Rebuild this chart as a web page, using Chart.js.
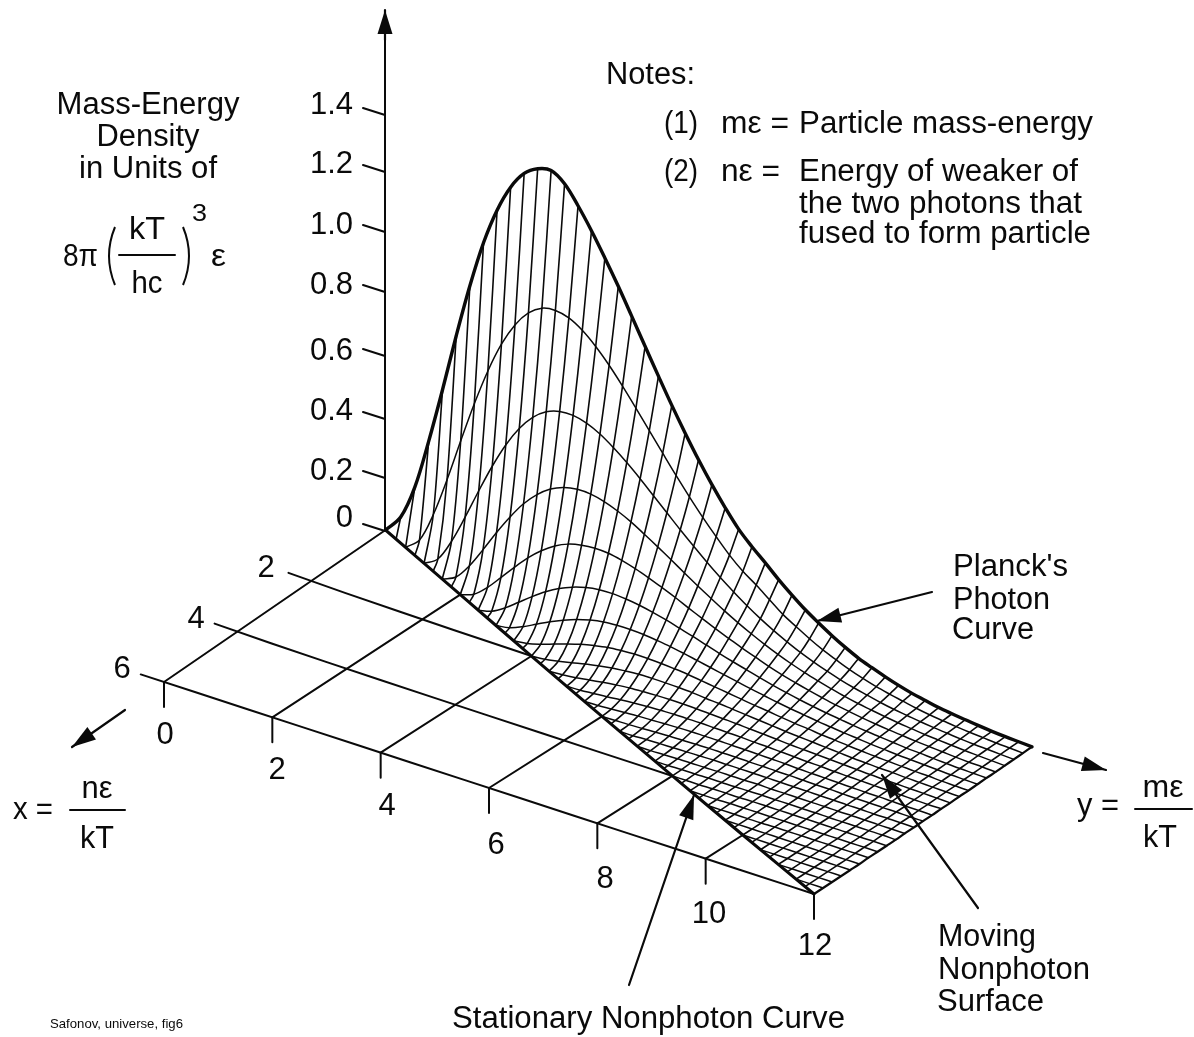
<!DOCTYPE html>
<html>
<head>
<meta charset="utf-8">
<title>Mass-energy density surface</title>
<script src="https://cdn.jsdelivr.net/npm/chart.js@4"></script>
<style>
  html, body { margin: 0; padding: 0; background: #fff; }
  canvas { display: block; }
</style>
</head>
<body>
<canvas id="surfaceChart" width="1194" height="1037"></canvas>
<script>
// axis ticks
const xTicks = [2, 4, 6];
const yTicks = [0, 2, 4, 6, 8, 10, 12];
const zTickLabels = ['0', '0.2', '0.4', '0.6', '0.8', '1.0', '1.2', '1.4'];

// grid steps of the wire mesh
const xStep = 0.25;
const yStep = 0.25;

// surface height, one row per y line (y = 0, 0.25 ... 12),
// each row runs from x = 0 towards the stationary curve in steps of 0.25
const surfaceRows = [
  [0],
  [.065],
  [.185, 0],
  [.360, .042],
  [.553, .146, 0],
  [.755, .282, .031],
  [.943, .431, .108, 0],
  [1.107, .575, .207, .023],
  [1.235, .704, .313, .078, 0],
  [1.330, .812, .414, .149, .017],
  [1.393, .894, .503, .224, .056, 0],
  [1.425, .951, .575, .293, .106, .012],
  [1.435, .983, .629, .354, .157, .039, 0],
  [1.405, .991, .664, .401, .205, .074, .008],
  [1.345, .981, .681, .436, .245, .109, .027, 0],
  [1.275, .954, .683, .457, .277, .141, .051, .006],
  [1.197, .914, .672, .466, .299, .168, .075, .019, 0],
  [1.115, .865, .650, .465, .311, .188, .096, .035, .004],
  [1.028, .809, .619, .455, .316, .202, .114, .051, .013, 0],
  [.940, .749, .583, .438, .314, .210, .127, .065, .023, .003],
  [.853, .687, .543, .416, .305, .212, .136, .076, .034, .008, 0],
  [.768, .625, .500, .389, .292, .209, .140, .085, .043, .016, .002],
  [.688, .564, .457, .361, .276, .203, .141, .090, .051, .023, .006, 0],
  [.612, .506, .414, .332, .258, .194, .139, .093, .056, .029, .010, .001],
  [.542, .451, .373, .302, .239, .183, .134, .093, .060, .034, .015, .004, 0],
  [.478, .400, .333, .273, .218, .170, .128, .091, .061, .037, .019, .007, .001],
  [.420, .352, .296, .245, .198, .157, .120, .088, .061, .039, .022, .010, .002, 0],
  [.375, .312, .262, .218, .178, .143, .111, .084, .060, .040, .024, .012, .004, 0],
  [.335, .280, .230, .193, .160, .129, .102, .078, .058, .040, .026, .014, .006, .002, 0],
  [.293, .245, .201, .170, .142, .116, .093, .072, .054, .039, .026, .016, .008, .003, 0],
  [.255, .210, .175, .149, .126, .104, .084, .066, .051, .037, .026, .017, .009, .004, .001, 0],
  [.220, .183, .152, .130, .110, .092, .075, .060, .047, .035, .025, .017, .010, .005, .002, 0],
  [.190, .157, .131, .113, .096, .081, .067, .054, .043, .033, .024, .017, .011, .006, .003, .001, 0],
  [.162, .134, .113, .098, .084, .071, .059, .049, .039, .030, .023, .016, .011, .007, .003, .001, 0],
  [.137, .115, .097, .085, .073, .062, .052, .043, .035, .028, .021, .016, .011, .007, .004, .002, 0, 0],
  [.115, .097, .083, .073, .063, .054, .046, .038, .031, .025, .020, .015, .010, .007, .004, .002, .001, 0],
  [.098, .082, .071, .062, .054, .047, .040, .034, .028, .022, .018, .014, .010, .007, .004, .002, .001, 0, 0],
  [.082, .069, .061, .053, .047, .041, .035, .029, .025, .020, .016, .013, .009, .007, .005, .003, .001, .001, 0],
  [.068, .059, .051, .046, .040, .035, .030, .026, .022, .018, .014, .011, .009, .006, .004, .003, .002, .001, 0, 0],
  [.056, .050, .043, .039, .034, .030, .026, .022, .019, .016, .013, .010, .008, .006, .004, .003, .002, .001, 0, 0],
  [.047, .041, .037, .033, .029, .026, .022, .019, .016, .014, .011, .009, .007, .006, .004, .003, .002, .001, 0, 0, 0],
  [.038, .034, .031, .028, .025, .022, .019, .016, .014, .012, .010, .008, .007, .005, .004, .003, .002, .001, .001, 0, 0],
  [.032, .029, .026, .023, .021, .018, .016, .014, .012, .010, .009, .007, .006, .005, .004, .003, .002, .001, .001, 0, 0, 0],
  [.027, .024, .022, .020, .018, .016, .014, .012, .011, .009, .008, .006, .005, .004, .003, .002, .002, .001, .001, 0, 0, 0],
  [.022, .020, .018, .017, .015, .013, .012, .010, .009, .008, .007, .006, .005, .004, .003, .002, .002, .001, .001, 0, 0, 0, 0],
  [.018, .017, .015, .014, .012, .011, .010, .009, .008, .007, .006, .005, .004, .003, .003, .002, .002, .001, .001, 0, 0, 0, 0],
  [.015, .014, .013, .012, .010, .009, .008, .007, .007, .006, .005, .004, .004, .003, .002, .002, .001, .001, .001, 0, 0, 0, 0, 0],
  [.013, .012, .011, .010, .009, .008, .007, .006, .006, .005, .004, .004, .003, .003, .002, .002, .001, .001, .001, 0, 0, 0, 0, 0],
  [.011, .010, .009, .008, .007, .007, .006, .005, .005, .004, .004, .003, .003, .002, .002, .001, .001, .001, .001, 0, 0, 0, 0, 0, 0]
];

// view of the box: where the four floor corners and the height unit land on the page,
// plus a small sag the drawing has across the middle of the floor
const view = {
  origin: [385.5, 530], xEnd: [164, 682], yEnd: [1032, 750], farEnd: [814, 894],
  xMax: 6, yMax: 12, zUnit: 291, sag: [4, 3]
};

function project(x, y, z) {
  const u = x / view.xMax, v = y / view.yMax;
  const sag = Math.sin(Math.PI * Math.sqrt(Math.max(v, 0))) * (1 - Math.pow(u, 6));
  const px = k => view.origin[k] + u * (view.xEnd[k] - view.origin[k]) + v * (view.yEnd[k] - view.origin[k])
    + u * v * (view.farEnd[k] - view.xEnd[k] - view.yEnd[k] + view.origin[k]) + view.sag[k] * sag;
  return { x: px(0), y: px(1) - z * view.zUnit };
}

const INK = '#0a0a0a';
const datasets = [];
function addLine(data, width, tension) {
  datasets.push({ data, showLine: true, pointRadius: 0, borderColor: INK, borderWidth: width,
    borderCapStyle: 'round', borderJoinStyle: 'round', tension: tension || 0, fill: false });
}

// y = const lines, ridge to stationary curve
surfaceRows.forEach((row, k) => {
  if (k === 0) return;
  const y = k * yStep;
  const pts = row.map((z, j) => project(j * xStep, y, z));
  if (k % 2 === 1) pts.push(project(y / 2, y, 0));
  addLine(pts, k === surfaceRows.length - 1 ? 2.2 : 1.6, 0.3);
});

// x = const lines, from the stationary curve out to y = 12
for (let j = 1; j <= 24; j++) {
  const pts = [];
  surfaceRows.forEach((row, k) => {
    if (row[j] !== undefined && k >= 2 * j) pts.push(project(j * xStep, k * yStep, row[j]));
  });
  addLine(pts, 1.5, 0.35);
}

// Planck ridge, x = 0
addLine(surfaceRows.map((row, k) => project(0, k * yStep, row[0])), 3.4, 0.35);

// floor: axis, diagonal, grid and ticks
const tickBack = -0.43, tickDrop = -0.086;
addLine([project(0, 0, 0), project(6, 0, 0)], 2);
const diagonal = [];
for (let y = 0; y <= 12; y += 1) diagonal.push(project(y / 2, y, 0));
addLine(diagonal, 3);
xTicks.forEach(x => {
  const pts = [];
  for (let y = tickBack; y < 2 * x; y += 1) pts.push(project(x, y, 0));
  pts.push(project(x, 2 * x, 0));
  addLine(pts, 2);
});
yTicks.forEach(y => {
  addLine([project(6, y, 0), project(6, y, tickDrop)], 2);
  if (y > 0 && y < 12) addLine([project(6, y, 0), project(y / 2, y, 0)], 2);
});

// vertical axis and its oblique ticks
const zTickInnerY = [531, 478, 419, 356, 292, 232, 172, 115];
addLine([{ x: 385.5, y: 530 }, { x: 385, y: 25 }], 2);
zTickInnerY.forEach(y => addLine([{ x: 363, y: y - 7 }, { x: 385, y }], 2));

// fraction bars
const fractionBars = [[119, 175, 255], [70, 125, 810], [1135, 1192, 809]];
fractionBars.forEach(b => addLine([{ x: b[0], y: b[2] }, { x: b[1], y: b[2] }], 2));

// annotation arrows: tail, tip
const arrows = [
  [125, 710, 72, 747],
  [1043, 753, 1106, 770],
  [932, 592, 817, 621],
  [629, 985, 694, 795],
  [978, 908, 882, 775],
  [385, 40, 385, 10]
];
arrows.forEach(a => addLine([{ x: a[0], y: a[1] }, { x: a[2], y: a[3] }], 2.2));

// text: string, anchor x, baseline y, target width, align, font size
const S = 31;
const textItems = [
  ['Mass-Energy', 148, 114, 183, 'center', S], ['Density', 148, 146, 103, 'center', S], ['in Units of', 148, 178, 138, 'center', S],
  ['8π', 63, 266, 35, 'left', S], ['kT', 147, 239, 36, 'center', S], ['hc', 147, 293, 31, 'center', S],
  ['3', 192, 221, 15, 'left', 24], ['ε', 211, 266, 15, 'left', S],
  ['Notes:', 606, 84, 89, 'left', S],
  ['(1)', 664, 133, 34, 'left', S], ['mε =', 721, 133, 68, 'left', S], ['Particle mass-energy', 799, 133, 294, 'left', S],
  ['(2)', 664, 181, 34, 'left', S], ['nε =', 721, 181, 59, 'left', S], ['Energy of weaker of', 799, 181, 279, 'left', S],
  ['the two photons that', 799, 213, 283, 'left', S], ['fused to form particle', 799, 243, 292, 'left', S],
  ["Planck's", 953, 576, 115, 'left', S], ['Photon', 953, 609, 97, 'left', S], ['Curve', 952, 639, 82, 'left', S],
  ['Moving', 938, 946, 98, 'left', S], ['Nonphoton', 938, 979, 152, 'left', S], ['Surface', 937, 1011, 107, 'left', S],
  ['y =', 1077, 815, 42, 'left', S], ['mε', 1163, 797, 41, 'center', S], ['kT', 1160, 847, 34, 'center', S],
  ['x =', 13, 819, 40, 'left', S], ['nε', 97, 798, 31, 'center', S], ['kT', 97, 848, 34, 'center', S],
  ['Stationary Nonphoton Curve', 452, 1028, 393, 'left', S],
  ['Safonov, universe, fig6', 50, 1028, 133, 'left', 13]
];
// tick label placement, in the same order as the tick arrays
const zLabelBase = [527, 480, 420, 360, 294, 234, 173, 114];
const xLabelPos = [[266, 577], [196, 628], [122, 678]];
const yLabelPos = [[165, 744], [277, 779], [387, 815], [496, 854], [605, 888], [709, 923], [815, 955]];
zTickLabels.forEach((t, i) => textItems.push([t, 353, zLabelBase[i], null, 'right', S]));
xTicks.forEach((t, i) => textItems.push([String(t), xLabelPos[i][0], xLabelPos[i][1], null, 'center', S]));
yTicks.forEach((t, i) => textItems.push([String(t), yLabelPos[i][0], yLabelPos[i][1], null, 'center', S]));

const figurePlugin = {
  id: 'figure',
  afterDatasetsDraw(chart) {
    const ctx = chart.ctx, sx = chart.scales.x, sy = chart.scales.y;
    ctx.save();
    ctx.fillStyle = INK;
    ctx.strokeStyle = INK;

    // arrow heads
    arrows.forEach(a => {
      const tx = sx.getPixelForValue(a[2]), ty = sy.getPixelForValue(a[3]);
      const ang = Math.atan2(a[3] - a[1], a[2] - a[0]);
      const len = 24, half = 7.5;
      ctx.beginPath();
      ctx.moveTo(tx, ty);
      ctx.lineTo(tx - len * Math.cos(ang) + half * Math.sin(ang), ty - len * Math.sin(ang) - half * Math.cos(ang));
      ctx.lineTo(tx - len * Math.cos(ang) - half * Math.sin(ang), ty - len * Math.sin(ang) + half * Math.cos(ang));
      ctx.closePath();
      ctx.fill();
    });

    // brackets around kT/hc
    ctx.lineWidth = 2;
    [[115, 103], [183, 195]].forEach(b => {
      ctx.beginPath();
      ctx.moveTo(sx.getPixelForValue(b[0]), sy.getPixelForValue(227));
      ctx.quadraticCurveTo(sx.getPixelForValue(b[1]), sy.getPixelForValue(256), sx.getPixelForValue(b[0]), sy.getPixelForValue(285));
      ctx.stroke();
    });

    // labels
    textItems.forEach(([str, x, y, w, align, size]) => {
      ctx.font = size + 'px "Liberation Sans", Arial, sans-serif';
      ctx.textBaseline = 'alphabetic';
      ctx.textAlign = align;
      const m = ctx.measureText(str).width;
      const stretch = w ? w / m : 1;
      ctx.save();
      ctx.translate(sx.getPixelForValue(x), sy.getPixelForValue(y));
      ctx.scale(stretch, 1);
      ctx.fillText(str, 0, 0);
      ctx.restore();
    });
    ctx.restore();
  }
};

new Chart(document.getElementById('surfaceChart').getContext('2d'), {
  type: 'scatter',
  data: { datasets },
  options: {
    responsive: false,
    animation: false,
    events: [],
    layout: { padding: 0 },
    plugins: { legend: { display: false }, tooltip: { enabled: false } },
    scales: {
      x: { type: 'linear', min: 0, max: 1194, display: false },
      y: { type: 'linear', min: 0, max: 1037, reverse: true, display: false }
    }
  },
  plugins: [figurePlugin]
});
</script>
</body>
</html>
